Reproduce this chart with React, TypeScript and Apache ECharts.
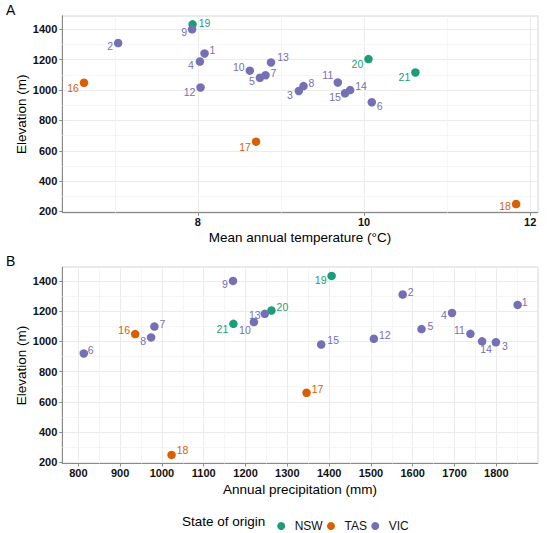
import * as echarts from "echarts";
import { useEffect, useRef } from "react";

// site number, state of origin and climate / elevation values per site
const sites = [1, 2, 3, 4, 5, 6, 7, 8, 9, 10, 11, 12, 13, 14, 15, 16, 17, 18, 19, 20, 21];
const states = [
  "VIC", "VIC", "VIC", "VIC", "VIC", "VIC", "VIC", "VIC", "VIC", "VIC",
  "VIC", "VIC", "VIC", "VIC", "VIC", "TAS", "TAS", "TAS", "NSW", "NSW", "NSW",
];
const temperature = [
  8.08, 7.04, 9.215, 8.024, 8.746, 10.093, 8.814, 9.271, 7.93, 8.625,
  9.684, 8.032, 8.88, 9.832, 9.771, 6.629, 8.7, 11.83, 7.936, 10.053, 10.618,
];
const precipitation = [
  1851, 1576, 1799, 1694, 1621, 813, 982, 974, 1170, 1220,
  1738, 1507, 1246, 1766, 1381, 936, 1346, 1023, 1406, 1262, 1171,
];
const elevation = [
  1241, 1310, 994, 1188, 1081, 920, 1098, 1026, 1400, 1128,
  1050, 1017, 1182, 1000, 979, 1048, 660, 249, 1433, 1204, 1116,
];

const stateNames = ["NSW", "TAS", "VIC"];
const stateColors = ["#1B9E77", "#D95F02", "#7570B3"];

const minorTemp = [7, 9, 11];
const minorPrecip = [850, 950, 1050, 1150, 1250, 1350, 1450, 1550, 1650, 1750, 1850];
const minorElev = [300, 500, 700, 900, 1100, 1300];

// label nudges (px) for each site, panel A then panel B
const offsetsA: Record<number, number[]> = {
  1: [8, -3], 2: [-8, 3], 3: [-9, 4], 4: [-9, 3], 5: [-8, 3], 6: [8, 4], 7: [8, -2],
  8: [8, -3], 9: [-8, 3], 10: [-11, -4], 11: [-10, -7], 12: [-11, 5], 13: [12, -5],
  14: [11, -4], 15: [-10, 4], 16: [-11, 5], 17: [-11, 5], 18: [-11, 2], 19: [12, -1],
  20: [-11, 5], 21: [-11, 5],
};
const offsetsB: Record<number, number[]> = {
  1: [7, -3], 2: [8, -3], 3: [9, 4], 4: [-8, 2], 5: [9, -3], 6: [7, -3], 7: [8, -3],
  8: [-8, 4], 9: [-8, 3], 10: [-9, 8], 11: [-11, -4], 12: [11, -4], 13: [-10, 1],
  14: [4, 8], 15: [12, -5], 16: [-11, -4], 17: [11, -4], 18: [11, -5], 19: [-11, 4],
  20: [11, -4], 21: [-11, 5],
};

const font = "Liberation Sans, Arial, Helvetica, sans-serif";
const border = "#8a8a8a";

function valueAxis(min: number, max: number, split: number, grid: number, margin: number, extra: object) {
  return {
    type: "value",
    gridIndex: grid,
    min,
    max,
    splitNumber: split,
    nameLocation: "middle",
    nameMoveOverlap: false,
    nameTextStyle: { fontFamily: font, fontSize: 13.5, color: "#000" },
    axisLine: { show: true, lineStyle: { color: border, width: 1 } },
    axisTick: { show: true, length: 3, lineStyle: { color: border } },
    axisLabel: {
      showMinLabel: false,
      showMaxLabel: false,
      fontFamily: font,
      fontSize: 11,
      fontWeight: "bold",
      color: "#111",
      margin,
      formatter: (v: number) => String(v),
    },
    splitLine: { show: true, lineStyle: { color: "#ebebeb", width: 1 } },
    ...extra,
  };
}

export default function App() {
  const ref = useRef<HTMLDivElement>(null);

  useEffect(() => {
    const chart = echarts.init(ref.current!, null, { renderer: "svg" });

    const series: any[] = [];
    [0, 1].forEach((panel) => {
      const xs = panel === 0 ? temperature : precipitation;
      const offs = panel === 0 ? offsetsA : offsetsB;
      stateNames.forEach((st, si) => {
        const data = sites
          .map((id, i) => ({ id, i }))
          .filter((d) => states[d.i] === st)
          .map((d) => ({
            value: [xs[d.i], elevation[d.i], d.id],
            label: { offset: offs[d.id] },
          }));
        series.push({
          type: "scatter",
          name: st,
          xAxisIndex: panel,
          yAxisIndex: panel,
          symbolSize: 8.5,
          z: 3,
          itemStyle: { color: stateColors[si], opacity: 1 },
          label: {
            show: true,
            position: "inside",
            color: stateColors[si],
            fontFamily: font,
            fontSize: 10.5,
            formatter: (p: any) => String(p.value[2]),
          },
          data,
        });
      });
      const minorX = panel === 0 ? minorTemp : minorPrecip;
      series.push({
        type: "scatter",
        xAxisIndex: panel,
        yAxisIndex: panel,
        data: [],
        silent: true,
        markLine: {
          silent: true,
          z: 1,
          symbol: ["none", "none"],
          label: { show: false },
          lineStyle: { color: "#f1f1f1", width: 0.7, type: "solid" },
          data: [
            ...minorX.map((v) => ({ xAxis: v })),
            ...minorElev.map((v) => ({ yAxis: v })),
          ],
        },
      });
    });

    chart.setOption({
      animation: false,
      backgroundColor: "#fff",
      grid: [
        { left: 62.3, top: 15.7, width: 475.4, height: 197, show: true, borderColor: border, borderWidth: 1, backgroundColor: "transparent" },
        { left: 62.3, top: 267.3, width: 475.4, height: 196.2, show: true, borderColor: border, borderWidth: 1, backgroundColor: "transparent" },
      ],
      xAxis: [
        valueAxis(6.368, 12.09, 3, 0, 4, { name: "Mean annual temperature (°C)", nameGap: 18 }),
        valueAxis(761.6, 1899, 11, 1, 4, { name: "Annual precipitation (mm)", nameGap: 18.5 }),
      ],
      yAxis: [
        valueAxis(192, 1490, 6, 0, 5, { name: "Elevation (m)", nameGap: 34 }),
        valueAxis(192, 1490, 6, 1, 5, { name: "Elevation (m)", nameGap: 34 }),
      ],
      legend: {
        data: stateNames,
        left: 272.2,
        top: 515,
        icon: "circle",
        itemWidth: 17,
        itemHeight: 8,
        itemGap: 4.3,
        textStyle: { fontFamily: font, fontSize: 12, color: "#111" },
        selectedMode: false,
      },
      graphic: [
        { type: "text", left: 6, top: 3, style: { text: "A", fontFamily: font, fontSize: 14, fill: "#000" } },
        { type: "text", left: 6, top: 254, style: { text: "B", fontFamily: font, fontSize: 14, fill: "#000" } },
        {
          type: "text",
          left: 182,
          top: 514.5,
          style: { text: "State of origin", fontFamily: font, fontSize: 13.5, fill: "#000" },
        },
      ],
      series,
    });

    return () => chart.dispose();
  }, []);

  return (
    <div
      ref={ref}
      style={{ position: "fixed", left: 0, top: 0, width: 550, height: 533 }}
    />
  );
}
